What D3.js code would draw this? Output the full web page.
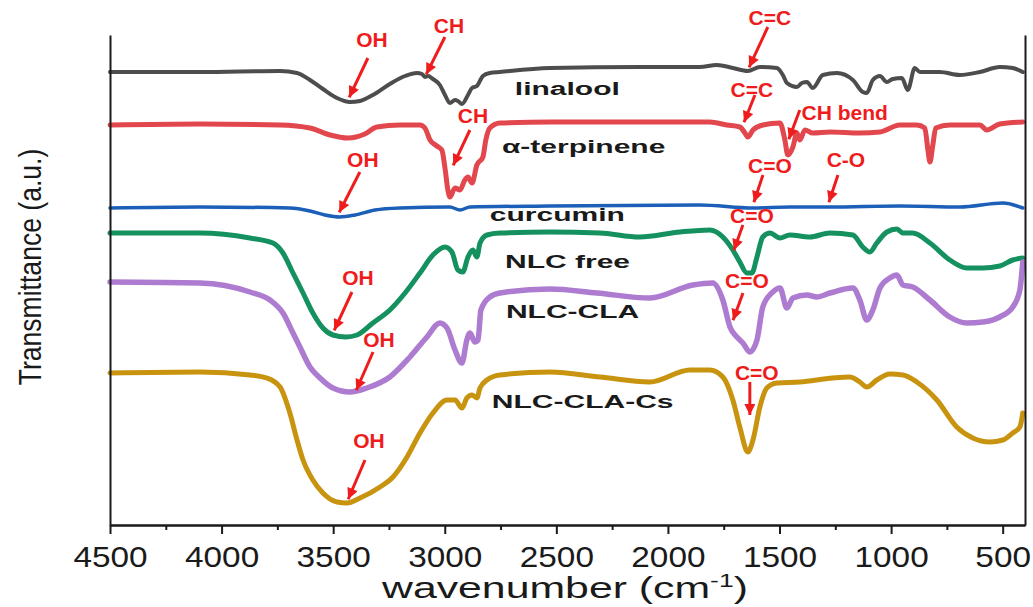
<!DOCTYPE html>
<html>
<head>
<meta charset="utf-8">
<script src="https://cdn.jsdelivr.net/npm/d3@7"></script>
<style>
  body { margin: 0; background: #fff; }
  .axis path, .axis line { stroke: #1a1a1a; stroke-width: 2; }
  .axis text { font-family: "Liberation Sans", Arial, sans-serif; font-size: 29px; fill: #1a1a1a; }
  .series-label { font-family: "Liberation Sans", Arial, sans-serif; font-weight: bold; font-size: 19px; fill: #1a1a1a; }
  .anno { font-family: "Liberation Sans", Arial, sans-serif; font-weight: bold; font-size: 21px; fill: #ee1c1c; }
</style>
</head>
<body>
<script>
// spectra: [wavenumber, transmittance (a.u.)]
var linalool = [[4500,45.3],[4097,45.3],[3738,45.4],[3662,45.2],[3604,44.5],[3546,43.6],[3483,42.7],[3425,42.3],[3380,42.4],[3322,43.0],[3246,44.1],[3178,44.9],[3125,45.2],[3102,45.1],[3089,44.8],[3075,44.9],[3053,44.6],[3022,44.0],[2999,43.0],[2977,42.2],[2954,42.5],[2941,42.4],[2923,42.1],[2896,43.0],[2878,43.7],[2856,43.9],[2829,44.9],[2798,45.2],[2753,45.3],[2529,45.7],[2126,45.8],[1857,45.8],[1781,46.0],[1709,45.7],[1642,45.4],[1588,45.8],[1512,45.7],[1485,45.0],[1467,44.2],[1422,43.8],[1400,44.2],[1377,44.3],[1351,43.7],[1306,45.0],[1243,45.2],[1171,44.5],[1127,43.3],[1109,43.2],[1082,44.5],[1050,44.9],[1019,44.3],[992,44.6],[952,44.7],[925,43.5],[894,45.7],[871,45.3],[782,45.3],[692,45.0],[602,45.3],[513,45.8],[455,45.7],[410,45.3]];

var terpinene = [[4500,40.0],[4097,40.1],[3738,40.0],[3604,39.7],[3514,39.0],[3434,38.7],[3358,39.1],[3304,39.8],[3201,40.0],[3111,40.0],[3089,39.7],[3066,38.5],[3035,37.9],[3013,37.5],[2999,35.7],[2986,33.5],[2977,32.8],[2954,33.7],[2932,33.5],[2910,34.5],[2896,34.8],[2878,34.2],[2856,36.0],[2829,36.8],[2816,38.5],[2798,39.7],[2753,40.2],[2529,40.3],[1812,40.3],[1736,40.0],[1678,39.8],[1655,39.2],[1642,38.8],[1619,39.5],[1575,40.0],[1498,40.2],[1476,38.5],[1463,37.0],[1440,37.8],[1422,39.2],[1409,38.5],[1386,39.5],[1351,39.2],[1274,39.3],[1140,39.2],[1050,39.3],[961,40.0],[885,40.0],[849,39.7],[835,37.5],[826,36.3],[813,38.0],[800,39.7],[737,40.0],[602,40.0],[571,39.5],[513,40.1],[410,40.3]];

var curcumin = [[4500,31.7],[4097,31.8],[3694,31.7],[3604,31.4],[3537,31.0],[3470,30.8],[3402,31.0],[3313,31.5],[3201,31.7],[2977,31.8],[2932,31.5],[2887,31.8],[2529,31.9],[1857,32.0],[1619,31.7],[1454,31.8],[1274,31.8],[961,31.9],[692,31.8],[499,32.2],[410,31.7]];

var nlcFree = [[4500,29.2],[4097,29.2],[3873,28.7],[3770,28.2],[3725,27.2],[3680,25.2],[3635,23.2],[3591,21.2],[3546,19.7],[3501,19.0],[3443,18.8],[3393,19.0],[3322,20.2],[3246,21.5],[3178,23.2],[3111,25.2],[3053,27.0],[2999,27.8],[2968,27.3],[2941,25.5],[2919,25.3],[2896,26.8],[2874,27.5],[2856,26.8],[2842,28.2],[2811,29.0],[2753,29.2],[2529,29.3],[2305,29.2],[2126,28.8],[1946,29.3],[1812,29.5],[1754,28.8],[1709,27.5],[1678,26.3],[1646,25.2],[1624,25.2],[1601,26.8],[1575,28.8],[1543,29.2],[1498,28.7],[1454,29.0],[1364,28.8],[1274,29.2],[1171,29.0],[1127,27.8],[1095,27.3],[1064,28.2],[1019,29.3],[974,29.6],[947,29.2],[903,29.2],[826,28.2],[737,26.5],[661,25.7],[589,25.7],[513,25.9],[455,26.5],[410,26.7]];

var nlcCla = [[4500,24.3],[4097,24.2],[3873,23.3],[3783,22.5],[3725,21.2],[3680,19.2],[3649,17.8],[3604,15.8],[3559,14.7],[3501,13.7],[3425,13.3],[3349,13.7],[3246,14.8],[3156,16.8],[3080,18.8],[3022,20.2],[2990,19.7],[2954,17.5],[2923,16.2],[2901,18.5],[2887,19.2],[2865,18.3],[2851,18.5],[2838,21.5],[2798,22.8],[2753,23.2],[2529,23.6],[2318,23.2],[2081,22.7],[1888,24.0],[1799,24.2],[1754,22.5],[1722,19.8],[1691,18.8],[1664,18.2],[1633,17.3],[1601,18.5],[1575,21.8],[1530,23.3],[1498,23.7],[1467,21.7],[1440,22.7],[1377,23.0],[1333,22.8],[1274,23.2],[1171,23.7],[1140,22.5],[1109,20.5],[1082,21.5],[1050,23.7],[1006,24.7],[974,25.0],[947,24.0],[903,23.8],[826,22.5],[737,20.8],[661,20.2],[589,20.3],[513,20.8],[455,21.8],[423,23.5],[410,26.3]];

var nlcClaCs = [[4500,15.2],[4097,15.3],[3873,15.0],[3797,14.7],[3738,13.8],[3694,11.2],[3662,8.5],[3635,6.5],[3591,4.5],[3546,3.2],[3483,2.3],[3438,2.2],[3380,2.7],[3290,3.8],[3232,4.8],[3169,6.8],[3111,9.2],[3053,11.2],[2990,12.5],[2954,12.5],[2923,11.7],[2901,12.7],[2878,13.0],[2856,12.7],[2842,13.7],[2811,14.5],[2753,15.0],[2529,15.3],[2305,14.8],[2081,14.3],[1902,15.5],[1812,15.5],[1754,14.8],[1709,12.5],[1678,9.8],[1642,7.3],[1619,8.5],[1588,11.8],[1557,13.7],[1512,14.2],[1409,14.3],[1261,14.7],[1185,14.8],[1140,14.3],[1109,13.8],[1064,14.5],[1006,15.1],[947,15.0],[885,14.3],[795,12.5],[706,9.8],[634,8.7],[558,8.3],[499,8.5],[455,9.2],[423,9.8],[410,11.2]];

var seriesNames = ["linalool", "\u03b1-terpinene", "curcumin", "NLC free", "NLC-CLA", "NLC-CLA-Cs"];
var seriesData = [linalool, terpinene, curcumin, nlcFree, nlcCla, nlcClaCs];
// where each name sits: [wavenumber, a.u.]
var labelAt = [[2686,43.0],[2744,37.2],[2798,30.4],[2730,25.7],[2726,20.7],[2789,11.7]];

var majorTicks = [4500, 4000, 3500, 3000, 2500, 2000, 1500, 1000, 500];
var minorTicks = [4250, 3750, 3250, 2750, 2250, 1750, 1250, 750];

// band assignments: arrow tip at [wavenumber, a.u.]
var annoText = ["OH", "CH", "C=C", "C=C", "CH", "CH bend", "OH", "C=O", "C-O", "C=O", "OH", "C=O", "OH", "C=O", "OH"];
var annoTip = [[3434,42.5],[3089,44.8],[1642,45.5],[1664,40.0],[2968,35.7],[1463,38.3],[3479,31.0],[1619,32.0],[1283,32.0],[1709,27.2],[3501,19.2],[1713,20.2],[3402,13.2],[1633,10.7],[3438,2.3]];

// layout: tail offset from tip, label offset from tail (px)
var annoLayout = [[20,-42,4,-11],[20,-40,4,-4],[20,-43,2,-2],[12,-30,-3,2],[18,-38,3,-7],[12,-32,45,10],[22,-43,3,-5],[10,-30,7,-2],[10,-30,8,-8],[10,-28,9,-2],[19,-41,6,-7],[11,-30,4,-5],[18,-41,6,-5],[0,-36,7,-2],[18,-42,4,-12]];

var colors = ["#4d4d4d", "#e2474d", "#1b5fb9", "#15915f", "#ad7bd0", "#c8940f"];
var widths = [4, 5, 3.5, 5, 5.5, 5];

var W = 1033, H = 607;
var x = d3.scaleLinear().domain([4500, 400]).range([110, 1025]);
var y = d3.scaleLinear().domain([0, 49]).range([525, 35]);

var svg = d3.select("body").append("svg")
    .attr("width", W)
    .attr("height", H);

svg.append("defs").append("marker")
    .attr("id", "arr")
    .attr("viewBox", "0 0 10 10")
    .attr("refX", 10)
    .attr("refY", 5)
    .attr("markerWidth", 12)
    .attr("markerHeight", 11)
    .attr("markerUnits", "userSpaceOnUse")
    .attr("orient", "auto")
  .append("path")
    .attr("d", "M0,0 L10,5 L0,10 z")
    .attr("fill", "#ee1c1c");

var line = d3.line()
    .x(function(d) { return x(d[0]); })
    .y(function(d) { return y(d[1]); })
    .curve(d3.curveMonotoneX);

svg.selectAll("path.spectrum")
    .data(seriesData)
    .enter()
    .append("path")
    .attr("class", "spectrum")
    .attr("d", line)
    .attr("fill", "none")
    .attr("stroke", function(d, i) { return colors[i]; })
    .attr("stroke-width", function(d, i) { return widths[i]; })
    .attr("stroke-linejoin", "round")
    .attr("stroke-linecap", "round");

// axes
svg.append("g")
    .attr("class", "axis")
    .attr("transform", "translate(0,525)")
    .call(d3.axisBottom(x).tickValues(minorTicks).tickSize(5).tickSizeOuter(0).tickFormat(""));

var xAxis = svg.append("g")
    .attr("class", "axis")
    .attr("transform", "translate(0,525)")
    .call(d3.axisBottom(x).tickValues(majorTicks).tickSize(9).tickPadding(12).tickSizeOuter(0).tickFormat(d3.format("d")));
xAxis.selectAll("text").attr("transform", "scale(1.15,1)");

svg.append("g")
    .attr("class", "axis")
    .attr("transform", "translate(110,0)")
    .call(d3.axisLeft(y).tickValues([]).tickSizeOuter(0));

svg.append("g")
    .attr("class", "axis")
    .attr("transform", "translate(1025,0)")
    .call(d3.axisRight(y).tickValues([]).tickSizeOuter(0));

svg.append("text")
    .attr("x", 565)
    .attr("y", 598)
    .attr("text-anchor", "middle")
    .attr("textLength", 366)
    .attr("lengthAdjust", "spacingAndGlyphs")
    .style("font-family", "'Liberation Sans', Arial, sans-serif")
    .style("font-size", "29px")
    .style("fill", "#1a1a1a")
    .call(function(t) {
        t.append("tspan").text("wavenumber (cm");
        t.append("tspan").attr("dy", -11).style("font-size", "18px").text("-1");
        t.append("tspan").attr("dy", 11).text(")");
    });

svg.append("text")
    .attr("transform", "translate(41,267) rotate(-90) scale(0.83,1)")
    .attr("text-anchor", "middle")
    .style("font-family", "'Liberation Sans', Arial, sans-serif")
    .style("font-size", "32px")
    .style("fill", "#1a1a1a")
    .text("Transmittance (a.u.)");

// series names
svg.selectAll("text.series-label")
    .data(seriesNames)
    .enter()
    .append("text")
    .attr("class", "series-label")
    .attr("transform", function(d, i) {
        return "translate(" + x(labelAt[i][0]) + "," + y(labelAt[i][1]) + ") scale(1.58,1)";
    })
    .text(function(d) { return d; });

// band annotations
var anno = svg.selectAll("g.anno-g")
    .data(annoText)
    .enter()
    .append("g")
    .attr("class", "anno-g");

anno.append("line")
    .attr("x1", function(d, i) { return x(annoTip[i][0]) + annoLayout[i][0]; })
    .attr("y1", function(d, i) { return y(annoTip[i][1]) + annoLayout[i][1]; })
    .attr("x2", function(d, i) {
        var dx = annoLayout[i][0], dy = annoLayout[i][1], len = Math.sqrt(dx * dx + dy * dy);
        return x(annoTip[i][0]) + dx / len * 3;
    })
    .attr("y2", function(d, i) {
        var dx = annoLayout[i][0], dy = annoLayout[i][1], len = Math.sqrt(dx * dx + dy * dy);
        return y(annoTip[i][1]) + dy / len * 3;
    })
    .attr("stroke", "#ee1c1c")
    .attr("stroke-width", 3)
    .attr("marker-end", "url(#arr)");

anno.append("text")
    .attr("class", "anno")
    .attr("text-anchor", "middle")
    .attr("x", function(d, i) { return x(annoTip[i][0]) + annoLayout[i][0] + annoLayout[i][2]; })
    .attr("y", function(d, i) { return y(annoTip[i][1]) + annoLayout[i][1] + annoLayout[i][3]; })
    .text(function(d) { return d; });
</script>
</body>
</html>
